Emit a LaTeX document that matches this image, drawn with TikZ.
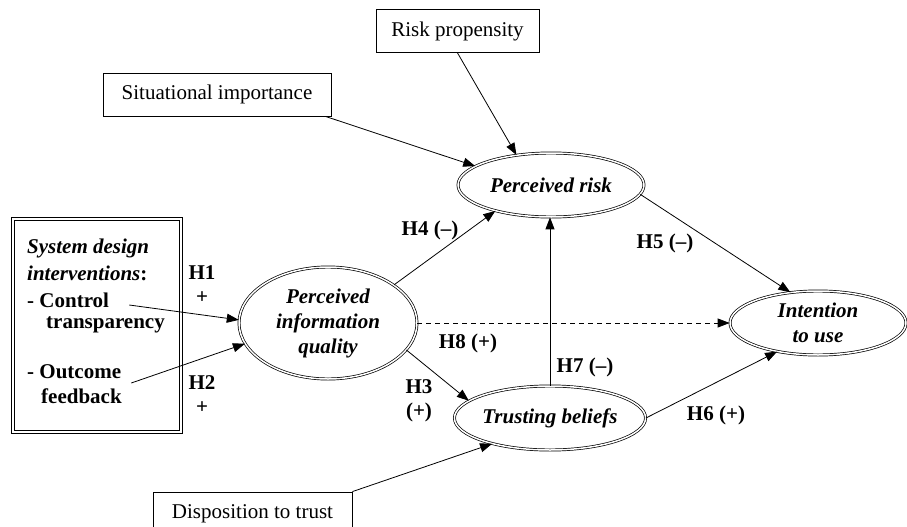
\documentclass[tikz,border=0pt]{standalone}
\usepackage{fontspec}
\setmainfont{Liberation Serif}
\usetikzlibrary{arrows.meta, positioning, shapes.geometric}

\begin{document}
\begin{tikzpicture}[x=1pt, y=-1pt,
  every node/.style={font=\fontsize{21}{25}\selectfont},
  latent/.style={ellipse, draw, line width=0.7pt, double, double distance=1.5pt,
                 align=center, inner sep=0pt,
                 font=\fontsize{21}{25}\selectfont\bfseries\itshape},
  obsbox/.style={rectangle, draw, line width=0.8pt, minimum height=43pt, inner sep=4pt},
  item/.style={anchor=west, inner sep=0pt, font=\fontsize{21}{25}\selectfont\bfseries},
  hyp/.style={align=center, inner sep=0pt, font=\fontsize{21}{24}\selectfont\bfseries},
  link/.style={-{Triangle[length=12pt,width=9pt]}, line width=0.8pt}]
  \useasboundingbox (0,0) rectangle (907,527);
  % exogenous factors
  \node[obsbox, minimum width=163pt] (rp) at (457.5,31) {Risk propensity};
  \node[obsbox, minimum width=228pt] (sit) at (217,94.5) {Situational importance};
  \node[obsbox, minimum width=199pt] (disp) at (252.5,513.5) {Disposition to trust};
  % design interventions
  \node[draw, double, double distance=2pt, line width=0.7pt,
        minimum width=168pt, minimum height=213pt] (sdi) at (97,325.5) {};
  \node[item, font=\fontsize{21}{25}\selectfont\bfseries\itshape] (sdihead) at (27,248) {System design};
  \node[item, font=\fontsize{21}{25}\selectfont\bfseries\itshape] (sdihead2) at (27,273) {interventions\textup{:}};
  \node[item] (ctrl) at (27,300) {- Control};
  \node[item] (ctrl2) at (46,325) {transparency};
  \node[item] (outc) at (27,372) {- Outcome};
  \node[item] (outc2) at (41,396) {feedback};
  % constructs
  \node[latent, minimum width=186pt, minimum height=64pt] (risk) at (551,185) {Perceived risk};
  \node[latent, minimum width=178pt, minimum height=112pt] (piq) at (328,323) {Perceived\\information\\quality};
  \node[latent, minimum width=190pt, minimum height=64pt] (tb) at (550,418) {Trusting beliefs};
  \node[latent, minimum width=176pt, minimum height=64pt] (itu) at (818,323) {Intention\\to use};
  % paths
  \draw[link] (rp.south) -- (risk.139);
  \draw[link] ([xshift=-6pt]sit.south east) -- (risk.166);
  \draw[link] (disp.north east) -- (tb.204);
  \draw[link] ([xshift=20pt,yshift=-5pt]ctrl.east) -- (piq.178);
  \draw[link] ([xshift=10pt,yshift=-11pt]outc.east) -- (piq.194);
  \draw[link] (piq.30) -- (risk.205);
  \draw[link] (piq.-19) -- (tb.168);
  \draw[link, dash pattern=on 5pt off 4pt] (piq.east) -- (itu.west);
  \draw[link] (tb.north) -- (tb.north |- risk.south);
  \draw[link] (risk.-6) -- (itu.132);
  \draw[link] (tb.east) -- (itu.215);
  % hypotheses
  \node[hyp] (h1) at (202,285) {H1\\+};
  \node[hyp] (h2) at (202,395) {H2\\+};
  \node[hyp] (h3) at (419,401) {H3\\(+)};
  \node[hyp] (h4) at (430,230) {H4 (--)};
  \node[hyp] (h5) at (665,243) {H5 (--)};
  \node[hyp] (h6) at (716,415) {H6 (+)};
  \node[hyp] (h7) at (585,367) {H7 (--)};
  \node[hyp] (h8) at (468,343) {H8 (+)};
\end{tikzpicture}
\end{document}
